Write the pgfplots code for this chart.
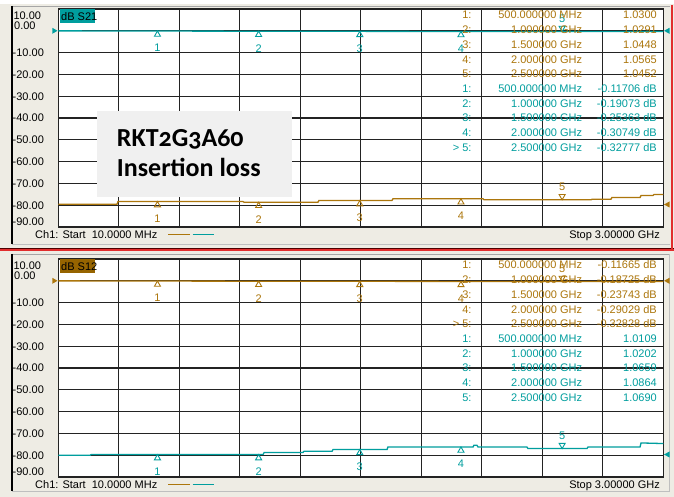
\documentclass[border=0pt]{standalone}
\usepackage{pgfplots}
\pgfplotsset{compat=1.18}
\usepackage{fontspec}
\setmainfont{Liberation Sans}
\newfontfamily\boxfont[Numbers=OldStyle]{Carlito}
\definecolor{tealc}{RGB}{0,158,158}
\definecolor{brownc}{RGB}{172,118,12}
\definecolor{brownbg}{RGB}{150,100,0}
\definecolor{bgc}{RGB}{238,236,228}
\definecolor{redc}{RGB}{225,45,45}
\definecolor{gridc}{RGB}{35,35,35}
\newcommand\vf{\fontsize{11}{12}\selectfont}
\tikzset{px/.style={x=1pt,y=-1pt,shift={(0pt,497pt)}}}
\pgfplotsset{
  vna/.style={
    scale only axis, width=605pt, height=218pt,
    xmin=10, xmax=3000, ymin=-90, ymax=10,
    xtick={10,309,608,907,1206,1505,1804,2103,2402,2701,3000},
    ytick={-90,-80,-70,-60,-50,-40,-30,-20,-10,0,10},
    xticklabels={}, yticklabels={},
    major tick length=0pt,
    grid=major,
    major grid style={gridc, line width=1.15pt},
    axis line style={gridc, line width=1.15pt},
    axis background/.style={fill=white},
    clip=false,
    anchor=south west,
  },
  trace/.style={#1, line width=1.3pt, no marks},
  upm/.style={#1, only marks, mark=triangle, mark size=3.5pt,
    mark options={yshift=-3.5pt, line width=0.9pt, draw=#1},
    nodes near coords, point meta=explicit symbolic,
    every node near coord/.style={anchor=center, yshift=-13.5pt, font=\vf, color=#1, text=#1, inner sep=0pt}},
  dnm/.style={#1, only marks, mark=triangle, mark size=3.5pt,
    mark options={yshift=3.5pt, rotate=180, line width=0.9pt, draw=#1},
    nodes near coords, point meta=explicit symbolic,
    every node near coord/.style={anchor=center, yshift=9.5pt, font=\vf, color=#1, text=#1, inner sep=0pt}},
}
\newcommand\mrow[5]{%
  \node[anchor=base east,font=\vf,text=#2,inner sep=0pt] at (471.7,#1) {#3};
  \node[anchor=base east,font=\vf,text=#2,inner sep=0pt] at (582.3,#1) {#4};
  \node[anchor=base east,font=\vf,text=#2,inner sep=0pt] at (657,#1) {#5};}
\begin{document}
\begin{tikzpicture}
\begin{scope}[px]
  \path[use as bounding box] (0,0) rectangle (674,497);
  \fill[bgc] (0,0) rectangle (674,497);
  \fill[white] (0,0) rectangle (674,4.5);
  % top panel frame
  \draw[black!35, line width=0.8pt] (12,6) -- (670,6);
  \draw[black, line width=1.3pt] (12,6) -- (12,244);
  \draw[black!25, line width=0.8pt] (12,244) -- (670,244);
  \draw[black!70!red, line width=1pt] (0,248.2) -- (674,248.2);
  \draw[redc, line width=2pt] (0,250) -- (674,250);
  \draw[redc, line width=2pt] (671.7,5) -- (671.7,249);
  % bottom panel frame
  \draw[black!35, line width=0.8pt] (12,254) -- (670,254);
  \draw[black, line width=1.3pt] (12,254) -- (12,491);
  \draw[black!25, line width=0.8pt] (12,491) -- (670,491);
  \draw[black!25, line width=0.8pt] (669,254) -- (669,491);
\end{scope}

% ---------------- top panel: S21 ----------------
\begin{axis}[vna, at={(58.3pt,270pt)}]
  \addplot[trace=brownc] coordinates {
    (10,-79.57) (300,-79.57) (305,-78.33) (923,-78.33) (928,-78.65) (1293,-78.65)
    (1298,-77.87) (1659,-77.87) (1664,-77.05) (2109,-77.05) (2114,-77.51) (2643,-77.51)
    (2648,-77.28) (2741,-77.28) (2746,-76.50) (2885,-76.50) (2890,-75.58) (2949,-75.58)
    (2954,-75.12) (3000,-75.12)};
  \addplot[trace=tealc] coordinates {
    (10,-0.03) (500,-0.117) (1000,-0.191) (1500,-0.254) (2000,-0.307) (2500,-0.328) (3000,-0.36)};
  \addplot[upm=brownc] coordinates {(500,-78.33)[1] (1000,-78.65)[2] (1500,-77.87)[3] (2000,-77.05)[4]};
  \addplot[dnm=brownc] coordinates {(2500,-77.51)[5]};
  \addplot[upm=tealc] coordinates {(500,-0.117)[1] (1000,-0.191)[2] (1500,-0.254)[3] (2000,-0.307)[4]};
  \addplot[dnm=tealc] coordinates {(2500,-0.328)[5]};
\end{axis}

% ---------------- bottom panel: S12 ----------------
\begin{axis}[vna, at={(58.3pt,20pt)}]
  \addplot[trace=tealc] coordinates {
    (10,-80.03) (167,-80.03) (172,-79.71) (1022,-79.71) (1027,-78.79) (1219,-78.79)
    (1224,-78.2) (1363,-78.2) (1368,-77.35) (1635,-77.35) (1639,-76.22) (2060,-76.22)
    (2064,-75.44) (2079,-75.44) (2084,-76.22) (2326,-76.22) (2331,-76.96) (2623,-76.96)
    (2628,-76.22) (2885,-76.22) (2890,-74.38) (3000,-74.66)};
  \addplot[trace=brownc] coordinates {
    (10,-0.03) (500,-0.117) (1000,-0.187) (1500,-0.237) (2000,-0.290) (2500,-0.328) (3000,-0.36)};
  \addplot[upm=tealc] coordinates {(500,-79.71)[1] (1000,-79.71)[2] (1500,-77.35)[3] (2000,-76.22)[4]};
  \addplot[dnm=tealc] coordinates {(2500,-76.96)[5]};
  \addplot[upm=brownc] coordinates {(500,-0.117)[1] (1000,-0.187)[2] (1500,-0.237)[3] (2000,-0.290)[4]};
  \addplot[dnm=brownc] coordinates {(2500,-0.328)[5]};
\end{axis}

\begin{scope}[px]
  % reference arrows
  \fill[tealc] (52.3,27.8) -- (57.5,30.8) -- (52.3,33.8) -- cycle;
  \fill[tealc] (669.5,27.8) -- (664,30.8) -- (669.5,33.8) -- cycle;
  \fill[brownc] (669.5,201.5) -- (664,204.5) -- (669.5,207.5) -- cycle;
  \fill[brownc] (52.3,277.8) -- (57.5,280.8) -- (52.3,283.8) -- cycle;
  \fill[brownc] (669.5,277.8) -- (664,280.8) -- (669.5,283.8) -- cycle;
  \fill[tealc] (669.5,451.5) -- (664,454.5) -- (669.5,457.5) -- cycle;
  % channel labels
  \fill[tealc] (60,9.5) rectangle (95,23);
  \node[anchor=base west,font=\vf,inner sep=0pt] at (61,20.5) {dB S21};
  \fill[brownbg] (60,259.5) rectangle (95,273);
  \node[anchor=base west,font=\vf,inner sep=0pt] at (61,270.5) {dB S12};
  % y labels
  \foreach \off in {0,250}{
    \node[anchor=base west,font=\vf,inner sep=0pt] at (13.3,20+\off) {10.00};
    \node[anchor=base west,font=\vf,inner sep=0pt] at (14,30+\off) {0.00};
    \foreach \v/\yy in {10/56.6,20/78.4,30/100.2,40/122,50/143.8,60/165.6,70/187.4,80/209.2,90/225.7}{
      \node[anchor=base west,font=\vf,inner sep=0pt] at (12.5,\yy+\off) {-\v.00};
    }
    \node[anchor=base west,font=\vf,inner sep=0pt] at (35,238.5+\off) {Ch1: Start\ \ 10.0000 MHz};
    \node[anchor=base east,font=\vf,inner sep=0pt] at (660,238.5+\off) {Stop 3.00000 GHz};
    \draw[brownc, line width=1.8pt] (168.3,234.5+\off) -- (190,234.5+\off);
    \draw[tealc, line width=1.8pt] (192.7,234.5+\off) -- (214,234.5+\off);
  }
  % marker tables, top
  \mrow{19}{brownc}{1:}{500.000000 MHz}{1.0300}
  \mrow{33.7}{brownc}{2:}{1.000000 GHz}{1.0291}
  \mrow{48.4}{brownc}{3:}{1.500000 GHz}{1.0448}
  \mrow{63.1}{brownc}{4:}{2.000000 GHz}{1.0565}
  \mrow{77.8}{brownc}{5:}{2.500000 GHz}{1.0452}
  \mrow{92.5}{tealc}{1:}{500.000000 MHz}{-0.11706 dB}
  \mrow{107.2}{tealc}{2:}{1.000000 GHz}{-0.19073 dB}
  \mrow{121.9}{tealc}{3:}{1.500000 GHz}{-0.25363 dB}
  \mrow{136.6}{tealc}{4:}{2.000000 GHz}{-0.30749 dB}
  \mrow{151.3}{tealc}{> 5:}{2.500000 GHz}{-0.32777 dB}
  % marker tables, bottom
  \mrow{269}{brownc}{1:}{500.000000 MHz}{-0.11665 dB}
  \mrow{283.7}{brownc}{2:}{1.000000 GHz}{-0.18725 dB}
  \mrow{298.4}{brownc}{3:}{1.500000 GHz}{-0.23743 dB}
  \mrow{313.1}{brownc}{4:}{2.000000 GHz}{-0.29029 dB}
  \mrow{327.8}{brownc}{> 5:}{2.500000 GHz}{-0.32828 dB}
  \mrow{342.5}{tealc}{1:}{500.000000 MHz}{1.0109}
  \mrow{357.2}{tealc}{2:}{1.000000 GHz}{1.0202}
  \mrow{371.9}{tealc}{3:}{1.500000 GHz}{1.0659}
  \mrow{386.6}{tealc}{4:}{2.000000 GHz}{1.0864}
  \mrow{401.3}{tealc}{5:}{2.500000 GHz}{1.0690}
  % annotation box
  \fill[black!6] (96.7,111) rectangle (291.7,196.7);
  \node[anchor=base west,inner sep=0pt,font=\boxfont\bfseries\fontsize{26}{28}\selectfont] at (116.7,146.7) {RKT2G3A60};
  \node[anchor=base west,inner sep=0pt,font=\boxfont\bfseries\fontsize{26}{28}\selectfont] at (116.7,176.7) {Insertion loss};
\end{scope}
\end{tikzpicture}
\end{document}
